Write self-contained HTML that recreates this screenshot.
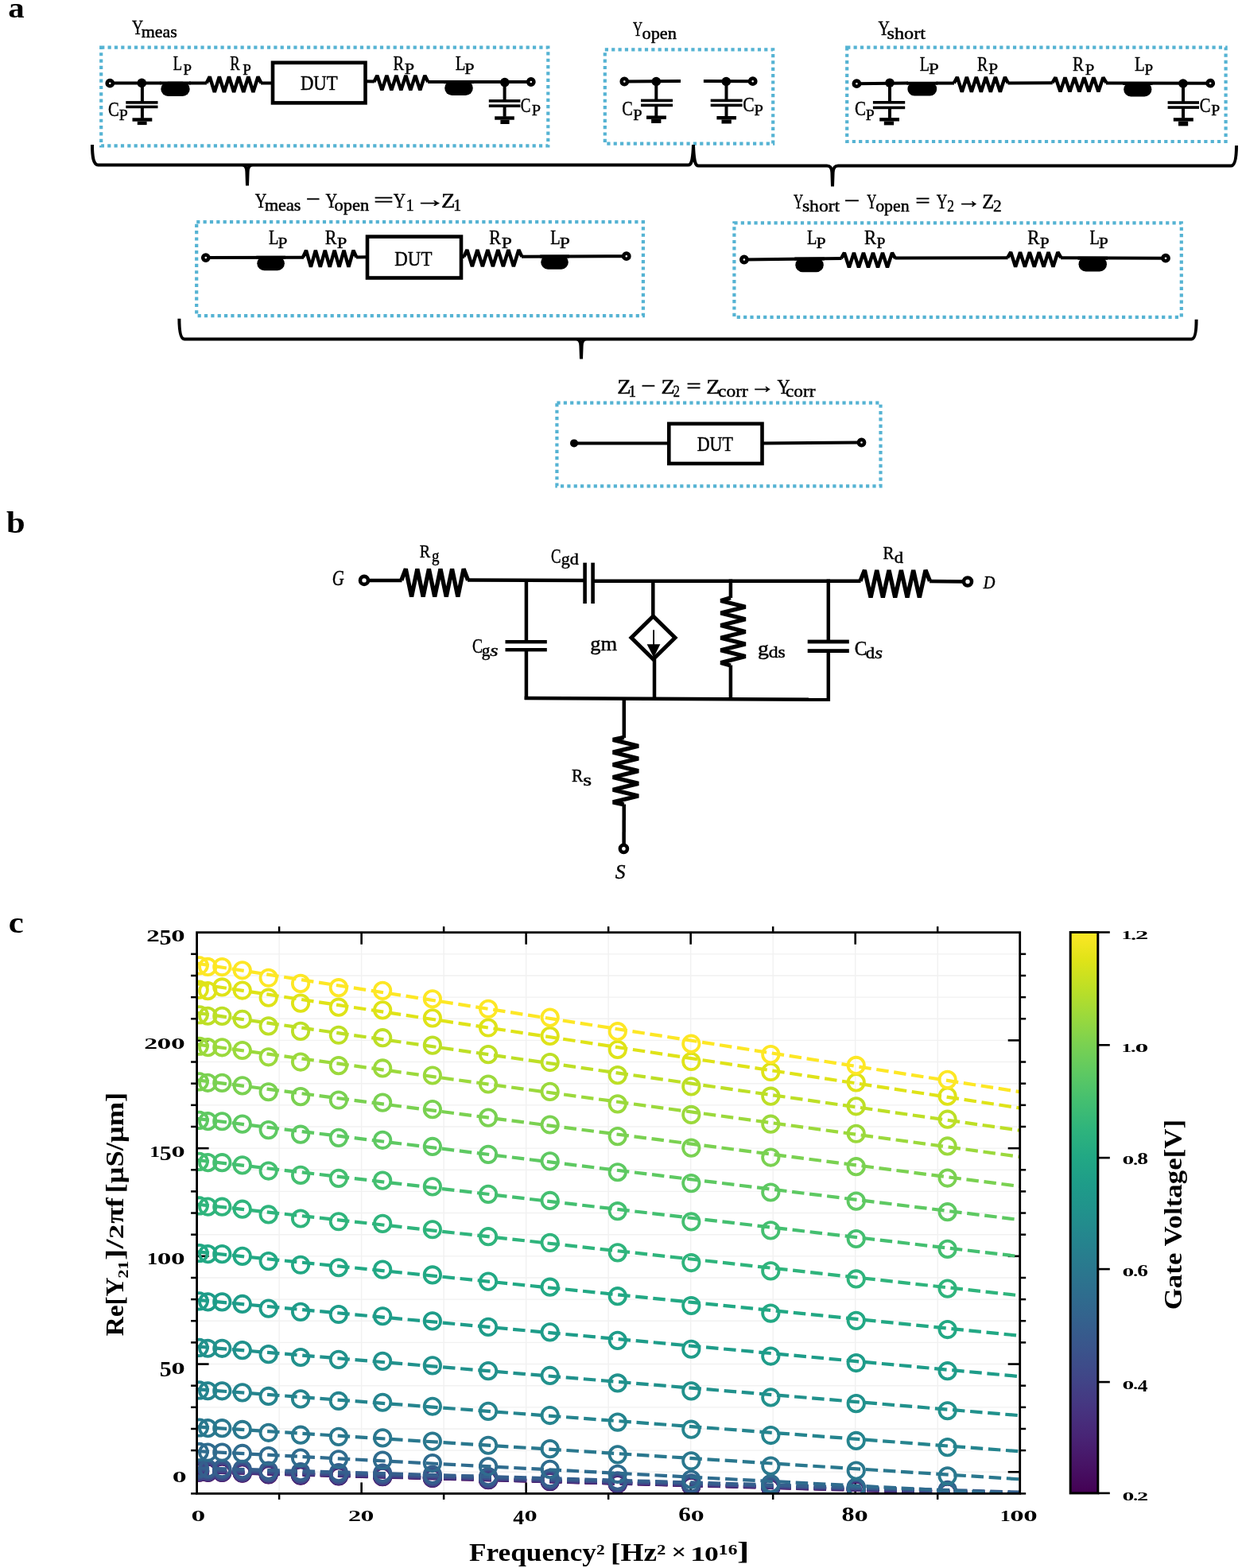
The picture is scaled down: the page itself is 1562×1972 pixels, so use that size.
<!DOCTYPE html><html><head><meta charset="utf-8"><title>figure</title><style>html,body{margin:0;padding:0;background:#fff;overflow:hidden;}svg{display:block;}text{font-family:'Liberation Serif', 'DejaVu Serif', serif;fill:#000;}</style></head><body>
<svg width="1562" height="1972" viewBox="0 0 1562 1972">
<rect x="0" y="0" width="1562" height="1972" fill="#fff"/>
<text x="10.18" y="22" font-size="36" font-weight="bold" textLength="20.44" lengthAdjust="spacingAndGlyphs" >a</text>
<rect x="127.2" y="59.6" width="562.1" height="123.8" fill="none" stroke="#55b3d3" stroke-width="4.2" stroke-dasharray="4.2 4.15"/>
<rect x="760.8" y="62.3" width="211.4" height="118.3" fill="none" stroke="#55b3d3" stroke-width="4.2" stroke-dasharray="4.2 4.15"/>
<rect x="1065.2" y="59.6" width="476.4" height="118.4" fill="none" stroke="#55b3d3" stroke-width="4.2" stroke-dasharray="4.2 4.15"/>
<rect x="247.2" y="279.2" width="561.7" height="118" fill="none" stroke="#55b3d3" stroke-width="4.2" stroke-dasharray="4.2 4.15"/>
<rect x="923.4" y="280.3" width="562.4" height="118.5" fill="none" stroke="#55b3d3" stroke-width="4.2" stroke-dasharray="4.2 4.15"/>
<rect x="700.4" y="506.6" width="407.1" height="104.7" fill="none" stroke="#55b3d3" stroke-width="4.2" stroke-dasharray="4.2 4.15"/>
<line x1="138.3" y1="104.5" x2="202.5" y2="104.5" stroke="#000" stroke-width="4" />
<circle cx="138.3" cy="104.7" r="3.6" fill="#fff" stroke="#000" stroke-width="4.6"/>
<circle cx="178.3" cy="104.4" r="5.8" fill="#000"/>
<line x1="178.9" y1="104.5" x2="178.9" y2="128.9" stroke="#000" stroke-width="4" />
<rect x="158.3" y="127.1" width="40.2" height="3.6" fill="#000"/>
<rect x="158.3" y="132.6" width="40.2" height="3.6" fill="#000"/>
<line x1="178.9" y1="134.4" x2="178.9" y2="148.8" stroke="#000" stroke-width="4" />
<rect x="166.5" y="148.3" width="24.8" height="4.4" fill="#000"/>
<rect x="172.8" y="152.7" width="11.8" height="4.4" fill="#000"/>
<line x1="201.3" y1="104.4" x2="239.7" y2="104.4" stroke="#000" stroke-width="4" />
<rect x="202.3" y="102.8" width="36.4" height="18.2" rx="9.1" ry="9.1" fill="#000"/>
<line x1="238" y1="104.5" x2="260" y2="104.5" stroke="#000" stroke-width="4" />
<polyline points="259.7,104.5 263.7,96.5 269.78,115.9 275.86,96.5 281.94,115.9 288.02,96.5 294.1,115.9 300.18,96.5 306.26,115.9 312.34,96.5 318.42,115.9 324.5,96.5 328.5,104.5" fill="none" stroke="#000" stroke-width="4.4" stroke-linejoin="bevel"/>
<line x1="328" y1="104.5" x2="343" y2="104.5" stroke="#000" stroke-width="4" />
<rect x="343" y="78.8" width="116.5" height="50.6" fill="none" stroke="#000" stroke-width="4.6"/>
<text x="377.94" y="112.9" font-size="25.2" textLength="46.73" lengthAdjust="spacingAndGlyphs" stroke="#000" stroke-width="0.45" >DUT</text>
<line x1="459.5" y1="102.2" x2="470.8" y2="102.6" stroke="#000" stroke-width="4" />
<polyline points="470.4,103 474.4,94.9 480.39,113.4 486.38,94.9 492.37,113.4 498.36,94.9 504.35,113.4 510.34,94.9 516.33,113.4 522.32,94.9 528.31,113.4 534.3,94.9 538.3,103" fill="none" stroke="#000" stroke-width="4.4" stroke-linejoin="bevel"/>
<line x1="538" y1="103" x2="667.8" y2="103" stroke="#000" stroke-width="4" />
<line x1="558.2" y1="103.2" x2="595.8" y2="103.2" stroke="#000" stroke-width="4" />
<rect x="559.2" y="101.6" width="35.6" height="18.3" rx="9.15" ry="9.15" fill="#000"/>
<circle cx="634.8" cy="103.6" r="5.8" fill="#000"/>
<line x1="634.6" y1="103" x2="634.6" y2="126.9" stroke="#000" stroke-width="4" />
<rect x="614.8" y="125.1" width="39.6" height="3.6" fill="#000"/>
<rect x="614.8" y="131.4" width="39.6" height="3.6" fill="#000"/>
<line x1="634.6" y1="133.2" x2="634.6" y2="146.8" stroke="#000" stroke-width="4" />
<rect x="622.2" y="146.3" width="24.6" height="4.4" fill="#000"/>
<rect x="629.4" y="150.7" width="11.2" height="5.3" fill="#000"/>
<circle cx="667.8" cy="103" r="3.6" fill="#fff" stroke="#000" stroke-width="4.6"/>
<text x="166.08" y="43" font-size="26" textLength="14.12" lengthAdjust="spacingAndGlyphs" stroke="#000" stroke-width="0.45" >Y</text>
<text x="177.74" y="46.9" font-size="21" textLength="45.05" lengthAdjust="spacingAndGlyphs" stroke="#000" stroke-width="0.45" >meas</text>
<text x="217.66" y="88.2" font-size="26" textLength="11.35" lengthAdjust="spacingAndGlyphs" stroke="#000" stroke-width="0.45" >L</text>
<text x="230.46" y="93.8" font-size="19.5" textLength="10.5" lengthAdjust="spacingAndGlyphs" stroke="#000" stroke-width="0.45" >P</text>
<text x="289.37" y="88.2" font-size="26" textLength="12.36" lengthAdjust="spacingAndGlyphs" stroke="#000" stroke-width="0.45" >R</text>
<text x="305.15" y="93.8" font-size="19.5" textLength="10.61" lengthAdjust="spacingAndGlyphs" stroke="#000" stroke-width="0.45" >P</text>
<text x="135.95" y="146.2" font-size="26" textLength="13.79" lengthAdjust="spacingAndGlyphs" stroke="#000" stroke-width="0.45" >C</text>
<text x="149.83" y="151.1" font-size="19.5" textLength="11.07" lengthAdjust="spacingAndGlyphs" stroke="#000" stroke-width="0.45" >P</text>
<text x="494.41" y="88.4" font-size="26" textLength="13.62" lengthAdjust="spacingAndGlyphs" stroke="#000" stroke-width="0.45" >R</text>
<text x="508.86" y="93" font-size="19.5" textLength="12.33" lengthAdjust="spacingAndGlyphs" stroke="#000" stroke-width="0.45" >P</text>
<text x="572.7" y="88.4" font-size="26" textLength="12.64" lengthAdjust="spacingAndGlyphs" stroke="#000" stroke-width="0.45" >L</text>
<text x="584.16" y="93" font-size="19.5" textLength="12.33" lengthAdjust="spacingAndGlyphs" stroke="#000" stroke-width="0.45" >P</text>
<text x="654.72" y="140.5" font-size="26" textLength="12.62" lengthAdjust="spacingAndGlyphs" stroke="#000" stroke-width="0.45" >C</text>
<text x="668.81" y="145.3" font-size="19.5" textLength="11.3" lengthAdjust="spacingAndGlyphs" stroke="#000" stroke-width="0.45" >P</text>
<line x1="785.3" y1="102.4" x2="856" y2="102" stroke="#000" stroke-width="4" />
<circle cx="785.3" cy="102.5" r="3.6" fill="#fff" stroke="#000" stroke-width="4.6"/>
<circle cx="825.3" cy="102.5" r="5.8" fill="#000"/>
<line x1="825.3" y1="102.4" x2="825.3" y2="126.4" stroke="#000" stroke-width="4" />
<rect x="806" y="124.6" width="40" height="3.6" fill="#000"/>
<rect x="806" y="130.6" width="40" height="3.6" fill="#000"/>
<line x1="825.3" y1="132.4" x2="825.3" y2="146" stroke="#000" stroke-width="4" />
<rect x="813" y="145.5" width="24.9" height="4.4" fill="#000"/>
<rect x="819.1" y="149.9" width="12.3" height="5" fill="#000"/>
<line x1="884.9" y1="102" x2="946.7" y2="102.2" stroke="#000" stroke-width="4" />
<circle cx="913.3" cy="102.5" r="5.8" fill="#000"/>
<line x1="913.5" y1="102.2" x2="913.5" y2="126.4" stroke="#000" stroke-width="4" />
<rect x="893.7" y="124.6" width="39.9" height="3.6" fill="#000"/>
<rect x="893.7" y="130.6" width="39.9" height="3.6" fill="#000"/>
<line x1="913.5" y1="132.4" x2="913.5" y2="146.5" stroke="#000" stroke-width="4" />
<rect x="901.4" y="146" width="24.6" height="4.4" fill="#000"/>
<rect x="907.5" y="150.4" width="12.3" height="5.1" fill="#000"/>
<circle cx="946.7" cy="102.2" r="3.6" fill="#fff" stroke="#000" stroke-width="4.6"/>
<text x="795.91" y="44.6" font-size="26" textLength="12.11" lengthAdjust="spacingAndGlyphs" stroke="#000" stroke-width="0.45" >Y</text>
<text x="807.55" y="49.2" font-size="21" textLength="43.39" lengthAdjust="spacingAndGlyphs" stroke="#000" stroke-width="0.45" >open</text>
<text x="782.17" y="145.2" font-size="26" textLength="13.55" lengthAdjust="spacingAndGlyphs" stroke="#000" stroke-width="0.45" >C</text>
<text x="796.31" y="151.4" font-size="19.5" textLength="11.41" lengthAdjust="spacingAndGlyphs" stroke="#000" stroke-width="0.45" >P</text>
<text x="934.32" y="139.9" font-size="26" textLength="14.37" lengthAdjust="spacingAndGlyphs" stroke="#000" stroke-width="0.45" >C</text>
<text x="948.41" y="145.2" font-size="19.5" textLength="11.41" lengthAdjust="spacingAndGlyphs" stroke="#000" stroke-width="0.45" >P</text>
<line x1="1077.4" y1="105.2" x2="1142" y2="104.6" stroke="#000" stroke-width="4" />
<circle cx="1077.4" cy="105.2" r="3.6" fill="#fff" stroke="#000" stroke-width="4.6"/>
<circle cx="1119" cy="104.2" r="5.8" fill="#000"/>
<line x1="1119" y1="104.6" x2="1119" y2="128.8" stroke="#000" stroke-width="4" />
<rect x="1097.9" y="127" width="40.3" height="3.6" fill="#000"/>
<rect x="1097.9" y="133.6" width="40.3" height="3.6" fill="#000"/>
<line x1="1119" y1="135.4" x2="1119" y2="148.6" stroke="#000" stroke-width="4" />
<rect x="1106.2" y="148.1" width="24.8" height="4.4" fill="#000"/>
<rect x="1111.8" y="152.5" width="12.3" height="4.9" fill="#000"/>
<line x1="1140.4" y1="104.8" x2="1179.2" y2="104.8" stroke="#000" stroke-width="4" />
<rect x="1141.4" y="103.2" width="36.8" height="17.4" rx="8.7" ry="8.7" fill="#000"/>
<line x1="1177.5" y1="104.6" x2="1200" y2="104.6" stroke="#000" stroke-width="4" />
<polyline points="1199.8,104.6 1203.8,96.9 1209.81,115.5 1215.82,96.9 1221.83,115.5 1227.84,96.9 1233.85,115.5 1239.86,96.9 1245.87,115.5 1251.88,96.9 1257.89,115.5 1263.9,96.9 1267.9,104.6" fill="none" stroke="#000" stroke-width="4.4" stroke-linejoin="bevel"/>
<line x1="1267.5" y1="104.4" x2="1323.8" y2="104.2" stroke="#000" stroke-width="4" />
<polyline points="1323.5,104.2 1327.5,97.4 1333.49,115.4 1339.48,97.4 1345.47,115.4 1351.46,97.4 1357.45,115.4 1363.44,97.4 1369.43,115.4 1375.42,97.4 1381.41,115.4 1387.4,97.4 1391.4,104.2" fill="none" stroke="#000" stroke-width="4.4" stroke-linejoin="bevel"/>
<line x1="1391" y1="104.4" x2="1522.2" y2="104.7" stroke="#000" stroke-width="4" />
<line x1="1412.2" y1="105" x2="1449.4" y2="105" stroke="#000" stroke-width="4" />
<rect x="1413.2" y="103.4" width="35.2" height="18.1" rx="9.05" ry="9.05" fill="#000"/>
<circle cx="1487.9" cy="105" r="5.8" fill="#000"/>
<line x1="1488" y1="104.8" x2="1488" y2="129" stroke="#000" stroke-width="4" />
<rect x="1468.6" y="127.2" width="39.4" height="3.6" fill="#000"/>
<rect x="1468.6" y="133.3" width="39.4" height="3.6" fill="#000"/>
<line x1="1488" y1="135.1" x2="1488" y2="148.7" stroke="#000" stroke-width="4" />
<rect x="1475.8" y="148.2" width="25" height="4.4" fill="#000"/>
<rect x="1482" y="152.6" width="12.2" height="5.8" fill="#000"/>
<circle cx="1522.2" cy="104.7" r="3.6" fill="#fff" stroke="#000" stroke-width="4.6"/>
<text x="1104.38" y="43.8" font-size="26" textLength="14.33" lengthAdjust="spacingAndGlyphs" stroke="#000" stroke-width="0.45" >Y</text>
<text x="1115.61" y="48.6" font-size="21" textLength="48.33" lengthAdjust="spacingAndGlyphs" stroke="#000" stroke-width="0.45" >short</text>
<text x="1074.94" y="145.4" font-size="26" textLength="14.02" lengthAdjust="spacingAndGlyphs" stroke="#000" stroke-width="0.45" >C</text>
<text x="1088.83" y="151" font-size="19.5" textLength="10.96" lengthAdjust="spacingAndGlyphs" stroke="#000" stroke-width="0.45" >P</text>
<text x="1156.83" y="88.6" font-size="26" textLength="12.17" lengthAdjust="spacingAndGlyphs" stroke="#000" stroke-width="0.45" >L</text>
<text x="1167.94" y="93.4" font-size="19.5" textLength="12.78" lengthAdjust="spacingAndGlyphs" stroke="#000" stroke-width="0.45" >P</text>
<text x="1228.92" y="88.6" font-size="26" textLength="13.41" lengthAdjust="spacingAndGlyphs" stroke="#000" stroke-width="0.45" >R</text>
<text x="1243.29" y="93.4" font-size="19.5" textLength="11.87" lengthAdjust="spacingAndGlyphs" stroke="#000" stroke-width="0.45" >P</text>
<text x="1348.89" y="88.8" font-size="26" textLength="14.04" lengthAdjust="spacingAndGlyphs" stroke="#000" stroke-width="0.45" >R</text>
<text x="1364.8" y="93.8" font-size="19.5" textLength="11.53" lengthAdjust="spacingAndGlyphs" stroke="#000" stroke-width="0.45" >P</text>
<text x="1426.9" y="88.8" font-size="26" textLength="12.76" lengthAdjust="spacingAndGlyphs" stroke="#000" stroke-width="0.45" >L</text>
<text x="1439.45" y="93.8" font-size="19.5" textLength="10.61" lengthAdjust="spacingAndGlyphs" stroke="#000" stroke-width="0.45" >P</text>
<text x="1508.86" y="140.8" font-size="26" textLength="13.67" lengthAdjust="spacingAndGlyphs" stroke="#000" stroke-width="0.45" >C</text>
<text x="1523.33" y="145" font-size="19.5" textLength="10.96" lengthAdjust="spacingAndGlyphs" stroke="#000" stroke-width="0.45" >P</text>
<path d="M116,182 C116,196 117.2,207.5 123.5,207.5 H304 C308,207.5 310,209.5 310.4,216 L311,233.4 M318,207.5 C314,207.5 312,209.5 311.6,216 L311,233.4 M304,207.5 H318 M318,207.5 H865.5 C869.5,207.5 871.3,203 872,182 C872.7,203 874.5,208.6 878.5,208.6 H1040 C1044,208.6 1046,210.6 1046.4,217 L1047,234.4 M1054,208.6 C1050,208.6 1048,210.6 1047.6,217 L1047,234.4 M1054,208.6 H1548 C1553.5,208.6 1555,197 1555,183" fill="none" stroke="#000" stroke-width="4"/>
<text x="320.87" y="260.6" font-size="26" textLength="14.64" lengthAdjust="spacingAndGlyphs" stroke="#000" stroke-width="0.45" >Y</text>
<text x="332.94" y="264.7" font-size="21" textLength="45.36" lengthAdjust="spacingAndGlyphs" stroke="#000" stroke-width="0.45" >meas</text>
<text x="385.11" y="259" font-size="26" textLength="18.06" lengthAdjust="spacingAndGlyphs" stroke="#000" stroke-width="0.45" >−</text>
<text x="409.57" y="260.6" font-size="26" textLength="14.54" lengthAdjust="spacingAndGlyphs" stroke="#000" stroke-width="0.45" >Y</text>
<text x="420.64" y="264.7" font-size="21" textLength="43.7" lengthAdjust="spacingAndGlyphs" stroke="#000" stroke-width="0.45" >open</text>
<text x="469.75" y="260" font-size="26" textLength="25.45" lengthAdjust="spacingAndGlyphs" stroke="#000" stroke-width="0.45" >=</text>
<text x="494.76" y="260.6" font-size="26" textLength="15.27" lengthAdjust="spacingAndGlyphs" stroke="#000" stroke-width="0.45" >Y</text>
<text x="510.5" y="264.7" font-size="21" textLength="10.23" lengthAdjust="spacingAndGlyphs" stroke="#000" stroke-width="0.45" >1</text>
<text x="521.63" y="259.5" font-size="26" textLength="39.03" lengthAdjust="spacingAndGlyphs" stroke="#000" stroke-width="0.45" >→</text>
<text x="555.13" y="260.6" font-size="26" textLength="17.43" lengthAdjust="spacingAndGlyphs" stroke="#000" stroke-width="0.45" >Z</text>
<text x="570.18" y="264.7" font-size="21" textLength="9.8" lengthAdjust="spacingAndGlyphs" stroke="#000" stroke-width="0.45" >1</text>
<line x1="258.8" y1="324.1" x2="382" y2="323.66" stroke="#000" stroke-width="4" />
<circle cx="258.8" cy="324.1" r="3.6" fill="#fff" stroke="#000" stroke-width="4.6"/>
<line x1="322.3" y1="323.87" x2="358.9" y2="323.87" stroke="#000" stroke-width="4" />
<rect x="323.3" y="322.27" width="34.6" height="17.93" rx="8.97" ry="8.97" fill="#000"/>
<polyline points="381,323.66 385,314.96 390.94,335.76 396.88,314.96 402.82,335.76 408.76,314.96 414.7,335.76 420.64,314.96 426.58,335.76 432.52,314.96 438.46,335.76 444.4,314.96 448.4,323.66" fill="none" stroke="#000" stroke-width="4.4" stroke-linejoin="bevel"/>
<line x1="448" y1="323.42" x2="462" y2="323.37" stroke="#000" stroke-width="4" />
<rect x="462" y="297.6" width="118" height="51.9" fill="none" stroke="#000" stroke-width="4.6"/>
<text x="496.34" y="334" font-size="25.6" textLength="47.04" lengthAdjust="spacingAndGlyphs" stroke="#000" stroke-width="0.45" >DUT</text>
<line x1="580" y1="322.95" x2="584" y2="322.93" stroke="#000" stroke-width="4" />
<polyline points="583.4,322.94 587.4,314.24 593.9,335.04 600.4,314.24 606.9,335.04 613.4,314.24 619.9,335.04 626.4,314.24 632.9,335.04 639.4,314.24 645.9,335.04 652.4,314.24 656.4,322.94" fill="none" stroke="#000" stroke-width="4.4" stroke-linejoin="bevel"/>
<line x1="656" y1="322.67" x2="787.8" y2="322.2" stroke="#000" stroke-width="4" />
<line x1="679.2" y1="322.59" x2="715.8" y2="322.59" stroke="#000" stroke-width="4" />
<rect x="680.2" y="320.99" width="34.6" height="17.71" rx="8.86" ry="8.86" fill="#000"/>
<circle cx="787.8" cy="322.2" r="3.6" fill="#fff" stroke="#000" stroke-width="4.6"/>
<text x="338.11" y="306.8" font-size="26" textLength="12.4" lengthAdjust="spacingAndGlyphs" stroke="#000" stroke-width="0.45" >L</text>
<text x="349.59" y="311.6" font-size="19.5" textLength="11.87" lengthAdjust="spacingAndGlyphs" stroke="#000" stroke-width="0.45" >P</text>
<text x="408.77" y="306.8" font-size="26" textLength="14.67" lengthAdjust="spacingAndGlyphs" stroke="#000" stroke-width="0.45" >R</text>
<text x="423.85" y="311.6" font-size="19.5" textLength="12.55" lengthAdjust="spacingAndGlyphs" stroke="#000" stroke-width="0.45" >P</text>
<text x="615.37" y="306.8" font-size="26" textLength="14.67" lengthAdjust="spacingAndGlyphs" stroke="#000" stroke-width="0.45" >R</text>
<text x="630.82" y="311.6" font-size="19.5" textLength="13.12" lengthAdjust="spacingAndGlyphs" stroke="#000" stroke-width="0.45" >P</text>
<text x="692.31" y="306.8" font-size="26" textLength="12.4" lengthAdjust="spacingAndGlyphs" stroke="#000" stroke-width="0.45" >L</text>
<text x="703.82" y="311.6" font-size="19.5" textLength="13.12" lengthAdjust="spacingAndGlyphs" stroke="#000" stroke-width="0.45" >P</text>
<text x="998.11" y="261.7" font-size="26" textLength="12.22" lengthAdjust="spacingAndGlyphs" stroke="#000" stroke-width="0.45" >Y</text>
<text x="1008.93" y="266" font-size="21" textLength="47.21" lengthAdjust="spacingAndGlyphs" stroke="#000" stroke-width="0.45" >short</text>
<text x="1061.84" y="261" font-size="26" textLength="19.88" lengthAdjust="spacingAndGlyphs" stroke="#000" stroke-width="0.45" >−</text>
<text x="1090.31" y="261.7" font-size="26" textLength="12.11" lengthAdjust="spacingAndGlyphs" stroke="#000" stroke-width="0.45" >Y</text>
<text x="1101.17" y="266" font-size="21" textLength="42.46" lengthAdjust="spacingAndGlyphs" stroke="#000" stroke-width="0.45" >open</text>
<text x="1151.36" y="261" font-size="26" textLength="18.54" lengthAdjust="spacingAndGlyphs" stroke="#000" stroke-width="0.45" >=</text>
<text x="1177.79" y="261.7" font-size="26" textLength="13.69" lengthAdjust="spacingAndGlyphs" stroke="#000" stroke-width="0.45" >Y</text>
<text x="1191.23" y="266" font-size="21" textLength="8.73" lengthAdjust="spacingAndGlyphs" stroke="#000" stroke-width="0.45" >2</text>
<text x="1203.32" y="260.5" font-size="26" textLength="30.75" lengthAdjust="spacingAndGlyphs" stroke="#000" stroke-width="0.45" >→</text>
<text x="1235.32" y="261.7" font-size="26" textLength="15.02" lengthAdjust="spacingAndGlyphs" stroke="#000" stroke-width="0.45" >Z</text>
<text x="1249.06" y="266" font-size="21" textLength="10.73" lengthAdjust="spacingAndGlyphs" stroke="#000" stroke-width="0.45" >2</text>
<line x1="935.9" y1="326.5" x2="1058.5" y2="325" stroke="#000" stroke-width="4" />
<circle cx="935.9" cy="326.5" r="3.6" fill="#fff" stroke="#000" stroke-width="4.6"/>
<line x1="999.3" y1="325.6" x2="1036.8" y2="325.6" stroke="#000" stroke-width="4" />
<rect x="1000.3" y="324" width="35.5" height="18.3" rx="9.15" ry="9.15" fill="#000"/>
<polyline points="1057.9,325 1061.9,317.9 1067.91,336.4 1073.92,317.9 1079.93,336.4 1085.94,317.9 1091.95,336.4 1097.96,317.9 1103.97,336.4 1109.98,317.9 1115.99,336.4 1122,317.9 1126,325" fill="none" stroke="#000" stroke-width="4.4" stroke-linejoin="bevel"/>
<line x1="1125.5" y1="324.6" x2="1267.6" y2="324.2" stroke="#000" stroke-width="4" />
<polyline points="1267.2,324.2 1271.2,317.1 1277.12,335.5 1283.04,317.1 1288.96,335.5 1294.88,317.1 1300.8,335.5 1306.72,317.1 1312.64,335.5 1318.56,317.1 1324.48,335.5 1330.4,317.1 1334.4,324.2" fill="none" stroke="#000" stroke-width="4.4" stroke-linejoin="bevel"/>
<line x1="1334" y1="324.3" x2="1466" y2="324.7" stroke="#000" stroke-width="4" />
<line x1="1355.5" y1="324.8" x2="1393" y2="324.8" stroke="#000" stroke-width="4" />
<rect x="1356.5" y="323.2" width="35.5" height="18.2" rx="9.1" ry="9.1" fill="#000"/>
<circle cx="1466" cy="324.7" r="3.6" fill="#fff" stroke="#000" stroke-width="4.6"/>
<text x="1015.01" y="306.8" font-size="26" textLength="12.4" lengthAdjust="spacingAndGlyphs" stroke="#000" stroke-width="0.45" >L</text>
<text x="1026.47" y="311.6" font-size="19.5" textLength="12.1" lengthAdjust="spacingAndGlyphs" stroke="#000" stroke-width="0.45" >P</text>
<text x="1086.95" y="306.8" font-size="26" textLength="15.08" lengthAdjust="spacingAndGlyphs" stroke="#000" stroke-width="0.45" >R</text>
<text x="1102.43" y="311.6" font-size="19.5" textLength="10.96" lengthAdjust="spacingAndGlyphs" stroke="#000" stroke-width="0.45" >P</text>
<text x="1292.34" y="306.8" font-size="26" textLength="15.19" lengthAdjust="spacingAndGlyphs" stroke="#000" stroke-width="0.45" >R</text>
<text x="1307.88" y="311.6" font-size="19.5" textLength="11.98" lengthAdjust="spacingAndGlyphs" stroke="#000" stroke-width="0.45" >P</text>
<text x="1370.42" y="306.8" font-size="26" textLength="12.29" lengthAdjust="spacingAndGlyphs" stroke="#000" stroke-width="0.45" >L</text>
<text x="1381.77" y="311.6" font-size="19.5" textLength="12.1" lengthAdjust="spacingAndGlyphs" stroke="#000" stroke-width="0.45" >P</text>
<path d="M225.4,400.7 C225.4,414 226.5,426.4 232,426.4 H724 C728,426.4 730,428.4 730.4,435 L731,451.4 M738,426.4 C734,426.4 732,428.4 731.6,435 L731,451.4 M724,426.4 H738 M738,426.4 H1498.5 C1503.5,426.4 1504.6,414 1504.6,401.8" fill="none" stroke="#000" stroke-width="4"/>
<text x="776.23" y="494.6" font-size="26" textLength="17.43" lengthAdjust="spacingAndGlyphs" stroke="#000" stroke-width="0.45" >Z</text>
<text x="790.43" y="498.8" font-size="21" textLength="9.52" lengthAdjust="spacingAndGlyphs" stroke="#000" stroke-width="0.45" >1</text>
<text x="806.57" y="493.5" font-size="26" textLength="18.42" lengthAdjust="spacingAndGlyphs" stroke="#000" stroke-width="0.45" >−</text>
<text x="831.44" y="494.6" font-size="26" textLength="17.3" lengthAdjust="spacingAndGlyphs" stroke="#000" stroke-width="0.45" >Z</text>
<text x="846.45" y="498.8" font-size="21" textLength="8.48" lengthAdjust="spacingAndGlyphs" stroke="#000" stroke-width="0.45" >2</text>
<text x="863.36" y="494" font-size="26" textLength="18.54" lengthAdjust="spacingAndGlyphs" stroke="#000" stroke-width="0.45" >=</text>
<text x="888.24" y="494.6" font-size="26" textLength="17.3" lengthAdjust="spacingAndGlyphs" stroke="#000" stroke-width="0.45" >Z</text>
<text x="903.11" y="498.8" font-size="21" textLength="37.59" lengthAdjust="spacingAndGlyphs" stroke="#000" stroke-width="0.45" >corr</text>
<text x="943.35" y="493.5" font-size="26" textLength="31.6" lengthAdjust="spacingAndGlyphs" stroke="#000" stroke-width="0.45" >→</text>
<text x="977.55" y="494.6" font-size="26" textLength="16.12" lengthAdjust="spacingAndGlyphs" stroke="#000" stroke-width="0.45" >Y</text>
<text x="988.01" y="498.8" font-size="21" textLength="37.49" lengthAdjust="spacingAndGlyphs" stroke="#000" stroke-width="0.45" >corr</text>
<line x1="722" y1="557.4" x2="842" y2="557.4" stroke="#000" stroke-width="4" />
<circle cx="722" cy="557.4" r="5" fill="#000"/>
<rect x="841.3" y="532.9" width="117.2" height="50.1" fill="none" stroke="#000" stroke-width="4.6"/>
<text x="876.67" y="567.3" font-size="25.2" textLength="45.2" lengthAdjust="spacingAndGlyphs" stroke="#000" stroke-width="0.45" >DUT</text>
<line x1="958" y1="557.4" x2="1083.5" y2="556.5" stroke="#000" stroke-width="4" />
<circle cx="1083.5" cy="556.5" r="3.6" fill="#fff" stroke="#000" stroke-width="4.6"/>
<text x="8.06" y="669.5" font-size="37" font-weight="bold" textLength="23.66" lengthAdjust="spacingAndGlyphs" >b</text>
<line x1="458" y1="729.9" x2="505.5" y2="729.9" stroke="#000" stroke-width="4.5" />
<polyline points="504.8,729.8 510.3,715.5 517.58,750.4 524.86,715.5 532.14,750.4 539.42,715.5 546.7,750.4 553.98,715.5 561.26,750.4 568.54,715.5 575.82,750.4 583.1,715.5 588.6,729.8" fill="none" stroke="#000" stroke-width="5.3" stroke-linejoin="bevel"/>
<line x1="588" y1="729.5" x2="735.6" y2="730" stroke="#000" stroke-width="4.5" />
<rect x="733.3" y="707.7" width="4.6" height="51.4" fill="#000"/>
<rect x="743.3" y="707.7" width="4.6" height="51.4" fill="#000"/>
<line x1="745.6" y1="730.7" x2="1082.5" y2="730.7" stroke="#000" stroke-width="4.5" />
<polyline points="1081.9,730.8 1087.4,717.1 1095.06,751.3 1102.72,717.1 1110.38,751.3 1118.04,717.1 1125.7,751.3 1133.36,717.1 1141.02,751.3 1148.68,717.1 1156.34,751.3 1164,717.1 1169.5,730.8" fill="none" stroke="#000" stroke-width="5.3" stroke-linejoin="bevel"/>
<line x1="1169" y1="731.1" x2="1217" y2="731.5" stroke="#000" stroke-width="4.5" />
<circle cx="458" cy="729.9" r="5" fill="#fff" stroke="#000" stroke-width="4.6"/>
<circle cx="1217" cy="731.5" r="5" fill="#fff" stroke="#000" stroke-width="4.6"/>
<line x1="661.9" y1="728" x2="661.9" y2="807.2" stroke="#000" stroke-width="4.5" />
<rect x="635.5" y="805" width="52.3" height="4.4" fill="#000"/>
<rect x="635.5" y="815" width="52.3" height="4.4" fill="#000"/>
<line x1="661.9" y1="817.2" x2="661.9" y2="880" stroke="#000" stroke-width="4.5" />
<line x1="821.3" y1="730" x2="821.3" y2="776" stroke="#000" stroke-width="4.5" />
<path d="M821.5,775 L849,802 L821.5,829 L794,802 Z" fill="none" stroke="#000" stroke-width="5" stroke-linejoin="miter"/>
<line x1="822.1" y1="792.2" x2="822.1" y2="812" stroke="#000" stroke-width="1.8" />
<path d="M813.6,810.3 L830.4,810.3 L822.1,826.7 Z" fill="#000"/>
<line x1="823" y1="829" x2="823" y2="880" stroke="#000" stroke-width="4.5" />
<line x1="918.9" y1="728.5" x2="918.9" y2="752" stroke="#000" stroke-width="4.5" />
<polyline points="918.9,751.8 906.4,755.4 937.6,763.2 906.4,771 937.6,778.8 906.4,786.6 937.6,794.4 906.4,802.2 937.6,810 906.4,817.8 937.6,825.6 906.4,833.4 918.9,837" fill="none" stroke="#000" stroke-width="5.2" stroke-linejoin="bevel"/>
<line x1="918.9" y1="836.5" x2="918.9" y2="880" stroke="#000" stroke-width="4.5" />
<line x1="1041.8" y1="728.5" x2="1041.8" y2="807" stroke="#000" stroke-width="4.5" />
<rect x="1015.7" y="804.6" width="52.1" height="4.8" fill="#000"/>
<rect x="1015.7" y="816.2" width="52.1" height="4.8" fill="#000"/>
<line x1="1041.8" y1="818.7" x2="1041.8" y2="882" stroke="#000" stroke-width="4.5" />
<polyline points="659.7,877.9 1044,879.8" fill="none" stroke="#000" stroke-width="4.5"/>
<line x1="784.8" y1="877" x2="784.8" y2="928" stroke="#000" stroke-width="4.5" />
<polyline points="784.8,927.4 770.8,930.4 803,938.25 770.8,946.1 803,953.95 770.8,961.8 803,969.65 770.8,977.5 803,985.35 770.8,993.2 803,1001.05 770.8,1008.9 784.8,1011.9" fill="none" stroke="#000" stroke-width="5.2" stroke-linejoin="bevel"/>
<line x1="784.8" y1="1011.5" x2="784.6" y2="1062" stroke="#000" stroke-width="4.5" />
<circle cx="784.4" cy="1067.4" r="4.6" fill="#fff" stroke="#000" stroke-width="4.4"/>
<text x="417.85" y="735.7" font-size="26.4" font-style="italic" textLength="14.99" lengthAdjust="spacingAndGlyphs" stroke="#000" stroke-width="0.45" >G</text>
<text x="1236.63" y="739.6" font-size="22.5" font-style="italic" textLength="14.68" lengthAdjust="spacingAndGlyphs" stroke="#000" stroke-width="0.45" >D</text>
<text x="773.7" y="1105" font-size="25" font-style="italic" textLength="12.71" lengthAdjust="spacingAndGlyphs" stroke="#000" stroke-width="0.45" >S</text>
<text x="527.82" y="701.1" font-size="24" textLength="13.41" lengthAdjust="spacingAndGlyphs" stroke="#000" stroke-width="0.45" >R</text>
<text x="542.99" y="705.5" font-size="20" textLength="9.48" lengthAdjust="spacingAndGlyphs" stroke="#000" stroke-width="0.45" >g</text>
<text x="693.03" y="707.7" font-size="25" textLength="12.5" lengthAdjust="spacingAndGlyphs" stroke="#000" stroke-width="0.45" >C</text>
<text x="705.85" y="710" font-size="20" textLength="22.01" lengthAdjust="spacingAndGlyphs" stroke="#000" stroke-width="0.45" >gd</text>
<text x="1110.49" y="703.1" font-size="24" textLength="14.04" lengthAdjust="spacingAndGlyphs" stroke="#000" stroke-width="0.45" >R</text>
<text x="1124.88" y="708" font-size="20" textLength="11.29" lengthAdjust="spacingAndGlyphs" stroke="#000" stroke-width="0.45" >d</text>
<text x="593.9" y="820.5" font-size="25" textLength="13.09" lengthAdjust="spacingAndGlyphs" stroke="#000" stroke-width="0.45" >C</text>
<text x="605.79" y="825" font-size="20" textLength="10.62" lengthAdjust="spacingAndGlyphs" stroke="#000" stroke-width="0.45" >g</text>
<text x="616.18" y="825" font-size="20" font-style="italic" textLength="10.33" lengthAdjust="spacingAndGlyphs" stroke="#000" stroke-width="0.45" >s</text>
<text x="742.26" y="817.6" font-size="26" textLength="33.85" lengthAdjust="spacingAndGlyphs" stroke="#000" stroke-width="0.45" >gm</text>
<text x="953" y="823.5" font-size="26" textLength="13.93" lengthAdjust="spacingAndGlyphs" stroke="#000" stroke-width="0.45" >g</text>
<text x="966.74" y="827.2" font-size="20" textLength="21.12" lengthAdjust="spacingAndGlyphs" stroke="#000" stroke-width="0.45" >ds</text>
<text x="1074.84" y="823.5" font-size="25" textLength="15.66" lengthAdjust="spacingAndGlyphs" stroke="#000" stroke-width="0.45" >C</text>
<text x="1088.88" y="828" font-size="20" textLength="11.4" lengthAdjust="spacingAndGlyphs" stroke="#000" stroke-width="0.45" >d</text>
<text x="1100.19" y="828" font-size="20" font-style="italic" textLength="9.77" lengthAdjust="spacingAndGlyphs" stroke="#000" stroke-width="0.45" >s</text>
<text x="719.08" y="983.4" font-size="24" textLength="14.35" lengthAdjust="spacingAndGlyphs" stroke="#000" stroke-width="0.45" >R</text>
<text x="733.16" y="987.8" font-size="20" textLength="10.85" lengthAdjust="spacingAndGlyphs" stroke="#000" stroke-width="0.45" >s</text>
<text x="10.83" y="1173.4" font-size="37" font-weight="bold" textLength="19.03" lengthAdjust="spacingAndGlyphs" >c</text>
<defs><clipPath id="axclip"><rect x="247.6" y="1172.7" width="1035.1" height="705.7"/></clipPath>
<linearGradient id="vir" x1="0" y1="1" x2="0" y2="0"><stop offset="0" stop-color="#440154"/><stop offset="0.05" stop-color="#471365"/><stop offset="0.1" stop-color="#482475"/><stop offset="0.15" stop-color="#463480"/><stop offset="0.2" stop-color="#414487"/><stop offset="0.25" stop-color="#3b528b"/><stop offset="0.3" stop-color="#355f8d"/><stop offset="0.35" stop-color="#2f6c8e"/><stop offset="0.4" stop-color="#2a788e"/><stop offset="0.45" stop-color="#25848e"/><stop offset="0.5" stop-color="#21918c"/><stop offset="0.55" stop-color="#1e9c89"/><stop offset="0.6" stop-color="#22a884"/><stop offset="0.65" stop-color="#2fb47c"/><stop offset="0.7" stop-color="#44bf70"/><stop offset="0.75" stop-color="#5ec962"/><stop offset="0.8" stop-color="#7ad151"/><stop offset="0.85" stop-color="#9bd93c"/><stop offset="0.9" stop-color="#bddf26"/><stop offset="0.95" stop-color="#dfe318"/><stop offset="1" stop-color="#fde725"/></linearGradient></defs>
<line x1="351.11" y1="1172.7" x2="351.11" y2="1878.4" stroke="#f1f1f1" stroke-width="1.4" />
<line x1="454.62" y1="1172.7" x2="454.62" y2="1878.4" stroke="#f1f1f1" stroke-width="1.4" />
<line x1="558.13" y1="1172.7" x2="558.13" y2="1878.4" stroke="#f1f1f1" stroke-width="1.4" />
<line x1="661.64" y1="1172.7" x2="661.64" y2="1878.4" stroke="#f1f1f1" stroke-width="1.4" />
<line x1="765.15" y1="1172.7" x2="765.15" y2="1878.4" stroke="#f1f1f1" stroke-width="1.4" />
<line x1="868.66" y1="1172.7" x2="868.66" y2="1878.4" stroke="#f1f1f1" stroke-width="1.4" />
<line x1="972.17" y1="1172.7" x2="972.17" y2="1878.4" stroke="#f1f1f1" stroke-width="1.4" />
<line x1="1075.68" y1="1172.7" x2="1075.68" y2="1878.4" stroke="#f1f1f1" stroke-width="1.4" />
<line x1="1179.19" y1="1172.7" x2="1179.19" y2="1878.4" stroke="#f1f1f1" stroke-width="1.4" />
<line x1="247.6" y1="1851.26" x2="1282.7" y2="1851.26" stroke="#f1f1f1" stroke-width="1.4" />
<line x1="247.6" y1="1824.12" x2="1282.7" y2="1824.12" stroke="#f1f1f1" stroke-width="1.4" />
<line x1="247.6" y1="1796.97" x2="1282.7" y2="1796.97" stroke="#f1f1f1" stroke-width="1.4" />
<line x1="247.6" y1="1769.83" x2="1282.7" y2="1769.83" stroke="#f1f1f1" stroke-width="1.4" />
<line x1="247.6" y1="1742.69" x2="1282.7" y2="1742.69" stroke="#f1f1f1" stroke-width="1.4" />
<line x1="247.6" y1="1715.55" x2="1282.7" y2="1715.55" stroke="#f1f1f1" stroke-width="1.4" />
<line x1="247.6" y1="1688.4" x2="1282.7" y2="1688.4" stroke="#f1f1f1" stroke-width="1.4" />
<line x1="247.6" y1="1661.26" x2="1282.7" y2="1661.26" stroke="#f1f1f1" stroke-width="1.4" />
<line x1="247.6" y1="1634.12" x2="1282.7" y2="1634.12" stroke="#f1f1f1" stroke-width="1.4" />
<line x1="247.6" y1="1606.98" x2="1282.7" y2="1606.98" stroke="#f1f1f1" stroke-width="1.4" />
<line x1="247.6" y1="1579.83" x2="1282.7" y2="1579.83" stroke="#f1f1f1" stroke-width="1.4" />
<line x1="247.6" y1="1552.69" x2="1282.7" y2="1552.69" stroke="#f1f1f1" stroke-width="1.4" />
<line x1="247.6" y1="1525.55" x2="1282.7" y2="1525.55" stroke="#f1f1f1" stroke-width="1.4" />
<line x1="247.6" y1="1498.41" x2="1282.7" y2="1498.41" stroke="#f1f1f1" stroke-width="1.4" />
<line x1="247.6" y1="1471.27" x2="1282.7" y2="1471.27" stroke="#f1f1f1" stroke-width="1.4" />
<line x1="247.6" y1="1444.12" x2="1282.7" y2="1444.12" stroke="#f1f1f1" stroke-width="1.4" />
<line x1="247.6" y1="1416.98" x2="1282.7" y2="1416.98" stroke="#f1f1f1" stroke-width="1.4" />
<line x1="247.6" y1="1389.84" x2="1282.7" y2="1389.84" stroke="#f1f1f1" stroke-width="1.4" />
<line x1="247.6" y1="1362.7" x2="1282.7" y2="1362.7" stroke="#f1f1f1" stroke-width="1.4" />
<line x1="247.6" y1="1335.55" x2="1282.7" y2="1335.55" stroke="#f1f1f1" stroke-width="1.4" />
<line x1="247.6" y1="1308.41" x2="1282.7" y2="1308.41" stroke="#f1f1f1" stroke-width="1.4" />
<line x1="247.6" y1="1281.27" x2="1282.7" y2="1281.27" stroke="#f1f1f1" stroke-width="1.4" />
<line x1="247.6" y1="1254.13" x2="1282.7" y2="1254.13" stroke="#f1f1f1" stroke-width="1.4" />
<line x1="247.6" y1="1226.98" x2="1282.7" y2="1226.98" stroke="#f1f1f1" stroke-width="1.4" />
<line x1="247.6" y1="1199.84" x2="1282.7" y2="1199.84" stroke="#f1f1f1" stroke-width="1.4" />
<line x1="247.6" y1="1851.26" x2="262.6" y2="1851.26" stroke="#000" stroke-width="2.6" />
<line x1="1267.7" y1="1851.26" x2="1282.7" y2="1851.26" stroke="#000" stroke-width="2.6" />
<line x1="247.6" y1="1715.55" x2="262.6" y2="1715.55" stroke="#000" stroke-width="2.6" />
<line x1="1267.7" y1="1715.55" x2="1282.7" y2="1715.55" stroke="#000" stroke-width="2.6" />
<line x1="247.6" y1="1579.83" x2="262.6" y2="1579.83" stroke="#000" stroke-width="2.6" />
<line x1="1267.7" y1="1579.83" x2="1282.7" y2="1579.83" stroke="#000" stroke-width="2.6" />
<line x1="247.6" y1="1444.12" x2="262.6" y2="1444.12" stroke="#000" stroke-width="2.6" />
<line x1="1267.7" y1="1444.12" x2="1282.7" y2="1444.12" stroke="#000" stroke-width="2.6" />
<line x1="247.6" y1="1308.41" x2="262.6" y2="1308.41" stroke="#000" stroke-width="2.6" />
<line x1="1267.7" y1="1308.41" x2="1282.7" y2="1308.41" stroke="#000" stroke-width="2.6" />
<line x1="454.62" y1="1172.7" x2="454.62" y2="1187.7" stroke="#000" stroke-width="2.6" />
<line x1="454.62" y1="1864.4" x2="454.62" y2="1878.4" stroke="#000" stroke-width="2.6" />
<line x1="661.64" y1="1172.7" x2="661.64" y2="1187.7" stroke="#000" stroke-width="2.6" />
<line x1="661.64" y1="1864.4" x2="661.64" y2="1878.4" stroke="#000" stroke-width="2.6" />
<line x1="868.66" y1="1172.7" x2="868.66" y2="1187.7" stroke="#000" stroke-width="2.6" />
<line x1="868.66" y1="1864.4" x2="868.66" y2="1878.4" stroke="#000" stroke-width="2.6" />
<line x1="1075.68" y1="1172.7" x2="1075.68" y2="1187.7" stroke="#000" stroke-width="2.6" />
<line x1="1075.68" y1="1864.4" x2="1075.68" y2="1878.4" stroke="#000" stroke-width="2.6" />
<g clip-path="url(#axclip)">
<g fill="none" stroke="#440154" stroke-width="3.8"><circle cx="250.73" cy="1851.59" r="10.2"/><circle cx="261.29" cy="1851.88" r="10.2"/><circle cx="279.3" cy="1851.9" r="10.2"/><circle cx="304.76" cy="1852.65" r="10.2"/><circle cx="337.68" cy="1854.32" r="10.2"/><circle cx="378.05" cy="1855.58" r="10.2"/><circle cx="425.87" cy="1856.51" r="10.2"/><circle cx="481.14" cy="1857.17" r="10.2"/><circle cx="543.87" cy="1858.99" r="10.2"/><circle cx="614.05" cy="1861.21" r="10.2"/><circle cx="691.68" cy="1863.11" r="10.2"/><circle cx="776.77" cy="1866.22" r="10.2"/><circle cx="869.31" cy="1868.96" r="10.2"/><circle cx="969.3" cy="1871.33" r="10.2"/><circle cx="1076.74" cy="1873.76" r="10.2"/><circle cx="1191.64" cy="1876.92" r="10.2"/></g>
<line x1="247.6" y1="1851.12" x2="1282.7" y2="1879.62" stroke="#440154" stroke-width="4.2" stroke-dasharray="15.48 6.7"/>
<g fill="none" stroke="#471365" stroke-width="3.8"><circle cx="250.73" cy="1851.32" r="10.2"/><circle cx="261.29" cy="1851.61" r="10.2"/><circle cx="279.3" cy="1851.63" r="10.2"/><circle cx="304.76" cy="1852.38" r="10.2"/><circle cx="337.68" cy="1854.05" r="10.2"/><circle cx="378.05" cy="1855.3" r="10.2"/><circle cx="425.87" cy="1856.24" r="10.2"/><circle cx="481.14" cy="1856.9" r="10.2"/><circle cx="543.87" cy="1858.72" r="10.2"/><circle cx="614.05" cy="1860.94" r="10.2"/><circle cx="691.68" cy="1862.84" r="10.2"/><circle cx="776.77" cy="1865.95" r="10.2"/><circle cx="869.31" cy="1868.69" r="10.2"/><circle cx="969.3" cy="1871.06" r="10.2"/><circle cx="1076.74" cy="1873.49" r="10.2"/><circle cx="1191.64" cy="1876.65" r="10.2"/></g>
<line x1="247.6" y1="1850.85" x2="1282.7" y2="1879.35" stroke="#471365" stroke-width="4.2" stroke-dasharray="15.48 6.7"/>
<g fill="none" stroke="#482475" stroke-width="3.8"><circle cx="250.73" cy="1851.05" r="10.2"/><circle cx="261.29" cy="1851.34" r="10.2"/><circle cx="279.3" cy="1851.36" r="10.2"/><circle cx="304.76" cy="1852.11" r="10.2"/><circle cx="337.68" cy="1853.78" r="10.2"/><circle cx="378.05" cy="1855.03" r="10.2"/><circle cx="425.87" cy="1855.97" r="10.2"/><circle cx="481.14" cy="1856.63" r="10.2"/><circle cx="543.87" cy="1858.45" r="10.2"/><circle cx="614.05" cy="1860.67" r="10.2"/><circle cx="691.68" cy="1862.57" r="10.2"/><circle cx="776.77" cy="1865.68" r="10.2"/><circle cx="869.31" cy="1868.42" r="10.2"/><circle cx="969.3" cy="1870.78" r="10.2"/><circle cx="1076.74" cy="1873.22" r="10.2"/><circle cx="1191.64" cy="1876.38" r="10.2"/></g>
<line x1="247.6" y1="1850.58" x2="1282.7" y2="1879.08" stroke="#482475" stroke-width="4.2" stroke-dasharray="15.48 6.7"/>
<g fill="none" stroke="#463480" stroke-width="3.8"><circle cx="250.73" cy="1850.78" r="10.2"/><circle cx="261.29" cy="1851.07" r="10.2"/><circle cx="279.3" cy="1851.08" r="10.2"/><circle cx="304.76" cy="1851.83" r="10.2"/><circle cx="337.68" cy="1853.51" r="10.2"/><circle cx="378.05" cy="1854.76" r="10.2"/><circle cx="425.87" cy="1855.7" r="10.2"/><circle cx="481.14" cy="1856.35" r="10.2"/><circle cx="543.87" cy="1858.18" r="10.2"/><circle cx="614.05" cy="1860.4" r="10.2"/><circle cx="691.68" cy="1862.3" r="10.2"/><circle cx="776.77" cy="1865.4" r="10.2"/><circle cx="869.31" cy="1868.14" r="10.2"/><circle cx="969.3" cy="1870.51" r="10.2"/><circle cx="1076.74" cy="1872.94" r="10.2"/><circle cx="1191.64" cy="1876.11" r="10.2"/></g>
<line x1="247.6" y1="1850.31" x2="1282.7" y2="1878.81" stroke="#463480" stroke-width="4.2" stroke-dasharray="15.48 6.7"/>
<g fill="none" stroke="#414487" stroke-width="3.8"><circle cx="250.73" cy="1849.97" r="10.2"/><circle cx="261.29" cy="1850.26" r="10.2"/><circle cx="279.3" cy="1850.28" r="10.2"/><circle cx="304.76" cy="1851.03" r="10.2"/><circle cx="337.68" cy="1852.72" r="10.2"/><circle cx="378.05" cy="1853.99" r="10.2"/><circle cx="425.87" cy="1854.93" r="10.2"/><circle cx="481.14" cy="1855.6" r="10.2"/><circle cx="543.87" cy="1857.44" r="10.2"/><circle cx="614.05" cy="1859.68" r="10.2"/><circle cx="691.68" cy="1861.6" r="10.2"/><circle cx="776.77" cy="1864.73" r="10.2"/><circle cx="869.31" cy="1867.5" r="10.2"/><circle cx="969.3" cy="1869.89" r="10.2"/><circle cx="1076.74" cy="1872.35" r="10.2"/><circle cx="1191.64" cy="1875.54" r="10.2"/></g>
<line x1="247.6" y1="1849.49" x2="1282.7" y2="1878.26" stroke="#414487" stroke-width="4.2" stroke-dasharray="15.48 6.7"/>
<g fill="none" stroke="#3b528b" stroke-width="3.8"><circle cx="250.73" cy="1848.35" r="10.2"/><circle cx="261.29" cy="1848.65" r="10.2"/><circle cx="279.3" cy="1848.67" r="10.2"/><circle cx="304.76" cy="1849.45" r="10.2"/><circle cx="337.68" cy="1851.19" r="10.2"/><circle cx="378.05" cy="1852.49" r="10.2"/><circle cx="425.87" cy="1853.46" r="10.2"/><circle cx="481.14" cy="1854.14" r="10.2"/><circle cx="543.87" cy="1856.03" r="10.2"/><circle cx="614.05" cy="1858.34" r="10.2"/><circle cx="691.68" cy="1860.31" r="10.2"/><circle cx="776.77" cy="1863.54" r="10.2"/><circle cx="869.31" cy="1866.38" r="10.2"/><circle cx="969.3" cy="1868.84" r="10.2"/><circle cx="1076.74" cy="1871.36" r="10.2"/><circle cx="1191.64" cy="1874.65" r="10.2"/></g>
<line x1="247.6" y1="1847.86" x2="1282.7" y2="1877.45" stroke="#3b528b" stroke-width="4.2" stroke-dasharray="15.48 6.7"/>
<g fill="none" stroke="#355f8d" stroke-width="3.8"><circle cx="250.73" cy="1846.74" r="10.2"/><circle cx="261.29" cy="1847.05" r="10.2"/><circle cx="279.3" cy="1847.07" r="10.2"/><circle cx="304.76" cy="1847.86" r="10.2"/><circle cx="337.68" cy="1849.65" r="10.2"/><circle cx="378.05" cy="1850.99" r="10.2"/><circle cx="425.87" cy="1851.98" r="10.2"/><circle cx="481.14" cy="1852.69" r="10.2"/><circle cx="543.87" cy="1854.63" r="10.2"/><circle cx="614.05" cy="1857" r="10.2"/><circle cx="691.68" cy="1859.02" r="10.2"/><circle cx="776.77" cy="1862.34" r="10.2"/><circle cx="869.31" cy="1865.26" r="10.2"/><circle cx="969.3" cy="1867.79" r="10.2"/><circle cx="1076.74" cy="1870.38" r="10.2"/><circle cx="1191.64" cy="1873.76" r="10.2"/></g>
<line x1="247.6" y1="1846.24" x2="1282.7" y2="1876.64" stroke="#355f8d" stroke-width="4.2" stroke-dasharray="15.48 6.7"/>
<g fill="none" stroke="#2f6c8e" stroke-width="3.8"><circle cx="250.73" cy="1825.96" r="10.2"/><circle cx="261.29" cy="1826.51" r="10.2"/><circle cx="279.3" cy="1826.55" r="10.2"/><circle cx="304.76" cy="1827.97" r="10.2"/><circle cx="337.68" cy="1831.16" r="10.2"/><circle cx="378.05" cy="1833.55" r="10.2"/><circle cx="425.87" cy="1835.33" r="10.2"/><circle cx="481.14" cy="1836.58" r="10.2"/><circle cx="543.87" cy="1840.06" r="10.2"/><circle cx="614.05" cy="1844.28" r="10.2"/><circle cx="691.68" cy="1847.9" r="10.2"/><circle cx="776.77" cy="1853.82" r="10.2"/><circle cx="869.31" cy="1860.67" r="10.2"/><circle cx="969.3" cy="1866" r="10.2"/><circle cx="1076.74" cy="1870.9" r="10.2"/><circle cx="1191.64" cy="1876.38" r="10.2"/></g>
<line x1="247.6" y1="1825.07" x2="1282.7" y2="1879.35" stroke="#2f6c8e" stroke-width="4.2" stroke-dasharray="15.48 6.7"/>
<g fill="none" stroke="#2a788e" stroke-width="3.8"><circle cx="250.73" cy="1795.48" r="10.2"/><circle cx="261.29" cy="1796.15" r="10.2"/><circle cx="279.3" cy="1796.19" r="10.2"/><circle cx="304.76" cy="1797.93" r="10.2"/><circle cx="337.68" cy="1801.8" r="10.2"/><circle cx="378.05" cy="1804.7" r="10.2"/><circle cx="425.87" cy="1806.86" r="10.2"/><circle cx="481.14" cy="1808.39" r="10.2"/><circle cx="543.87" cy="1812.61" r="10.2"/><circle cx="614.05" cy="1817.74" r="10.2"/><circle cx="691.68" cy="1822.14" r="10.2"/><circle cx="776.77" cy="1829.33" r="10.2"/><circle cx="869.31" cy="1837.3" r="10.2"/><circle cx="969.3" cy="1843.6" r="10.2"/><circle cx="1076.74" cy="1849.5" r="10.2"/><circle cx="1191.64" cy="1856.28" r="10.2"/></g>
<line x1="247.6" y1="1794.39" x2="1282.7" y2="1860.35" stroke="#2a788e" stroke-width="4.2" stroke-dasharray="15.48 6.7"/>
<g fill="none" stroke="#25848e" stroke-width="3.8"><circle cx="250.73" cy="1748.45" r="10.2"/><circle cx="261.29" cy="1749.25" r="10.2"/><circle cx="279.3" cy="1749.3" r="10.2"/><circle cx="304.76" cy="1751.35" r="10.2"/><circle cx="337.68" cy="1755.94" r="10.2"/><circle cx="378.05" cy="1759.38" r="10.2"/><circle cx="425.87" cy="1761.94" r="10.2"/><circle cx="481.14" cy="1763.75" r="10.2"/><circle cx="543.87" cy="1768.75" r="10.2"/><circle cx="614.05" cy="1774.84" r="10.2"/><circle cx="691.68" cy="1780.05" r="10.2"/><circle cx="776.77" cy="1788.57" r="10.2"/><circle cx="869.31" cy="1797.72" r="10.2"/><circle cx="969.3" cy="1805.03" r="10.2"/><circle cx="1076.74" cy="1811.97" r="10.2"/><circle cx="1191.64" cy="1820.11" r="10.2"/></g>
<line x1="247.6" y1="1747.17" x2="1282.7" y2="1825.34" stroke="#25848e" stroke-width="4.2" stroke-dasharray="15.48 6.7"/>
<g fill="none" stroke="#21918c" stroke-width="3.8"><circle cx="250.73" cy="1694.86" r="10.2"/><circle cx="261.29" cy="1695.74" r="10.2"/><circle cx="279.3" cy="1695.79" r="10.2"/><circle cx="304.76" cy="1698.08" r="10.2"/><circle cx="337.68" cy="1703.17" r="10.2"/><circle cx="378.05" cy="1707" r="10.2"/><circle cx="425.87" cy="1709.84" r="10.2"/><circle cx="481.14" cy="1711.85" r="10.2"/><circle cx="543.87" cy="1717.41" r="10.2"/><circle cx="614.05" cy="1724.17" r="10.2"/><circle cx="691.68" cy="1729.96" r="10.2"/><circle cx="776.77" cy="1739.43" r="10.2"/><circle cx="869.31" cy="1749.41" r="10.2"/><circle cx="969.3" cy="1757.45" r="10.2"/><circle cx="1076.74" cy="1765.13" r="10.2"/><circle cx="1191.64" cy="1774.23" r="10.2"/></g>
<line x1="247.6" y1="1693.43" x2="1282.7" y2="1780.28" stroke="#21918c" stroke-width="4.2" stroke-dasharray="15.48 6.7"/>
<g fill="none" stroke="#1e9c89" stroke-width="3.8"><circle cx="250.73" cy="1636.38" r="10.2"/><circle cx="261.29" cy="1637.37" r="10.2"/><circle cx="279.3" cy="1637.42" r="10.2"/><circle cx="304.76" cy="1639.96" r="10.2"/><circle cx="337.68" cy="1645.61" r="10.2"/><circle cx="378.05" cy="1649.86" r="10.2"/><circle cx="425.87" cy="1653.01" r="10.2"/><circle cx="481.14" cy="1655.24" r="10.2"/><circle cx="543.87" cy="1661.41" r="10.2"/><circle cx="614.05" cy="1668.91" r="10.2"/><circle cx="691.68" cy="1675.33" r="10.2"/><circle cx="776.77" cy="1685.84" r="10.2"/><circle cx="869.31" cy="1696.73" r="10.2"/><circle cx="969.3" cy="1705.56" r="10.2"/><circle cx="1076.74" cy="1714.05" r="10.2"/><circle cx="1191.64" cy="1724.2" r="10.2"/></g>
<line x1="247.6" y1="1634.8" x2="1282.7" y2="1731.15" stroke="#1e9c89" stroke-width="4.2" stroke-dasharray="15.48 6.7"/>
<g fill="none" stroke="#22a884" stroke-width="3.8"><circle cx="250.73" cy="1576.01" r="10.2"/><circle cx="261.29" cy="1577.09" r="10.2"/><circle cx="279.3" cy="1577.15" r="10.2"/><circle cx="304.76" cy="1579.92" r="10.2"/><circle cx="337.68" cy="1586.12" r="10.2"/><circle cx="378.05" cy="1590.77" r="10.2"/><circle cx="425.87" cy="1594.23" r="10.2"/><circle cx="481.14" cy="1596.67" r="10.2"/><circle cx="543.87" cy="1603.43" r="10.2"/><circle cx="614.05" cy="1611.65" r="10.2"/><circle cx="691.68" cy="1618.68" r="10.2"/><circle cx="776.77" cy="1630.2" r="10.2"/><circle cx="869.31" cy="1641.98" r="10.2"/><circle cx="969.3" cy="1651.57" r="10.2"/><circle cx="1076.74" cy="1660.85" r="10.2"/><circle cx="1191.64" cy="1672.03" r="10.2"/></g>
<line x1="247.6" y1="1574.27" x2="1282.7" y2="1679.85" stroke="#22a884" stroke-width="4.2" stroke-dasharray="15.48 6.7"/>
<g fill="none" stroke="#2fb47c" stroke-width="3.8"><circle cx="250.73" cy="1516.45" r="10.2"/><circle cx="261.29" cy="1517.62" r="10.2"/><circle cx="279.3" cy="1517.69" r="10.2"/><circle cx="304.76" cy="1520.7" r="10.2"/><circle cx="337.68" cy="1527.44" r="10.2"/><circle cx="378.05" cy="1532.5" r="10.2"/><circle cx="425.87" cy="1536.26" r="10.2"/><circle cx="481.14" cy="1538.92" r="10.2"/><circle cx="543.87" cy="1546.26" r="10.2"/><circle cx="614.05" cy="1555.2" r="10.2"/><circle cx="691.68" cy="1562.85" r="10.2"/><circle cx="776.77" cy="1575.37" r="10.2"/><circle cx="869.31" cy="1588.04" r="10.2"/><circle cx="969.3" cy="1598.4" r="10.2"/><circle cx="1076.74" cy="1608.47" r="10.2"/><circle cx="1191.64" cy="1620.67" r="10.2"/></g>
<line x1="247.6" y1="1514.56" x2="1282.7" y2="1629.37" stroke="#2fb47c" stroke-width="4.2" stroke-dasharray="15.48 6.7"/>
<g fill="none" stroke="#44bf70" stroke-width="3.8"><circle cx="250.73" cy="1460.91" r="10.2"/><circle cx="261.29" cy="1462.15" r="10.2"/><circle cx="279.3" cy="1462.22" r="10.2"/><circle cx="304.76" cy="1465.41" r="10.2"/><circle cx="337.68" cy="1472.53" r="10.2"/><circle cx="378.05" cy="1477.88" r="10.2"/><circle cx="425.87" cy="1481.85" r="10.2"/><circle cx="481.14" cy="1484.66" r="10.2"/><circle cx="543.87" cy="1492.42" r="10.2"/><circle cx="614.05" cy="1501.87" r="10.2"/><circle cx="691.68" cy="1509.95" r="10.2"/><circle cx="776.77" cy="1523.18" r="10.2"/><circle cx="869.31" cy="1536.47" r="10.2"/><circle cx="969.3" cy="1547.38" r="10.2"/><circle cx="1076.74" cy="1558" r="10.2"/><circle cx="1191.64" cy="1570.92" r="10.2"/></g>
<line x1="247.6" y1="1458.92" x2="1282.7" y2="1580.24" stroke="#44bf70" stroke-width="4.2" stroke-dasharray="15.48 6.7"/>
<g fill="none" stroke="#5ec962" stroke-width="3.8"><circle cx="250.73" cy="1408.9" r="10.2"/><circle cx="261.29" cy="1410.2" r="10.2"/><circle cx="279.3" cy="1410.27" r="10.2"/><circle cx="304.76" cy="1413.62" r="10.2"/><circle cx="337.68" cy="1421.09" r="10.2"/><circle cx="378.05" cy="1426.7" r="10.2"/><circle cx="425.87" cy="1430.87" r="10.2"/><circle cx="481.14" cy="1433.81" r="10.2"/><circle cx="543.87" cy="1441.95" r="10.2"/><circle cx="614.05" cy="1451.87" r="10.2"/><circle cx="691.68" cy="1460.35" r="10.2"/><circle cx="776.77" cy="1474.23" r="10.2"/><circle cx="869.31" cy="1488.1" r="10.2"/><circle cx="969.3" cy="1499.5" r="10.2"/><circle cx="1076.74" cy="1510.63" r="10.2"/><circle cx="1191.64" cy="1524.22" r="10.2"/></g>
<line x1="247.6" y1="1406.8" x2="1282.7" y2="1534.1" stroke="#5ec962" stroke-width="4.2" stroke-dasharray="15.48 6.7"/>
<g fill="none" stroke="#7ad151" stroke-width="3.8"><circle cx="250.73" cy="1360.42" r="10.2"/><circle cx="261.29" cy="1361.79" r="10.2"/><circle cx="279.3" cy="1361.87" r="10.2"/><circle cx="304.76" cy="1365.38" r="10.2"/><circle cx="337.68" cy="1373.24" r="10.2"/><circle cx="378.05" cy="1379.13" r="10.2"/><circle cx="425.87" cy="1383.51" r="10.2"/><circle cx="481.14" cy="1386.61" r="10.2"/><circle cx="543.87" cy="1395.17" r="10.2"/><circle cx="614.05" cy="1405.59" r="10.2"/><circle cx="691.68" cy="1414.5" r="10.2"/><circle cx="776.77" cy="1429.1" r="10.2"/><circle cx="869.31" cy="1443.59" r="10.2"/><circle cx="969.3" cy="1455.53" r="10.2"/><circle cx="1076.74" cy="1467.22" r="10.2"/><circle cx="1191.64" cy="1481.53" r="10.2"/></g>
<line x1="247.6" y1="1358.22" x2="1282.7" y2="1492.03" stroke="#7ad151" stroke-width="4.2" stroke-dasharray="15.48 6.7"/>
<g fill="none" stroke="#9bd93c" stroke-width="3.8"><circle cx="250.73" cy="1315.76" r="10.2"/><circle cx="261.29" cy="1317.2" r="10.2"/><circle cx="279.3" cy="1317.29" r="10.2"/><circle cx="304.76" cy="1321" r="10.2"/><circle cx="337.68" cy="1329.3" r="10.2"/><circle cx="378.05" cy="1335.53" r="10.2"/><circle cx="425.87" cy="1340.16" r="10.2"/><circle cx="481.14" cy="1343.44" r="10.2"/><circle cx="543.87" cy="1352.48" r="10.2"/><circle cx="614.05" cy="1363.5" r="10.2"/><circle cx="691.68" cy="1372.91" r="10.2"/><circle cx="776.77" cy="1388.34" r="10.2"/><circle cx="869.31" cy="1401.93" r="10.2"/><circle cx="969.3" cy="1413.69" r="10.2"/><circle cx="1076.74" cy="1425.76" r="10.2"/><circle cx="1191.64" cy="1441.45" r="10.2"/></g>
<line x1="247.6" y1="1313.43" x2="1282.7" y2="1454.84" stroke="#9bd93c" stroke-width="4.2" stroke-dasharray="15.48 6.7"/>
<g fill="none" stroke="#bddf26" stroke-width="3.8"><circle cx="250.73" cy="1276.24" r="10.2"/><circle cx="261.29" cy="1277.75" r="10.2"/><circle cx="279.3" cy="1277.84" r="10.2"/><circle cx="304.76" cy="1281.73" r="10.2"/><circle cx="337.68" cy="1290.41" r="10.2"/><circle cx="378.05" cy="1296.92" r="10.2"/><circle cx="425.87" cy="1301.77" r="10.2"/><circle cx="481.14" cy="1305.19" r="10.2"/><circle cx="543.87" cy="1314.65" r="10.2"/><circle cx="614.05" cy="1326.17" r="10.2"/><circle cx="691.68" cy="1336.03" r="10.2"/><circle cx="776.77" cy="1352.16" r="10.2"/><circle cx="869.31" cy="1366.38" r="10.2"/><circle cx="969.3" cy="1378.68" r="10.2"/><circle cx="1076.74" cy="1391.3" r="10.2"/><circle cx="1191.64" cy="1407.72" r="10.2"/></g>
<line x1="247.6" y1="1273.81" x2="1282.7" y2="1421.73" stroke="#bddf26" stroke-width="4.2" stroke-dasharray="15.48 6.7"/>
<g fill="none" stroke="#dfe318" stroke-width="3.8"><circle cx="250.73" cy="1244.62" r="10.2"/><circle cx="261.29" cy="1246.22" r="10.2"/><circle cx="279.3" cy="1241.43" r="10.2"/><circle cx="304.76" cy="1245.53" r="10.2"/><circle cx="337.68" cy="1254.71" r="10.2"/><circle cx="378.05" cy="1261.6" r="10.2"/><circle cx="425.87" cy="1266.72" r="10.2"/><circle cx="481.14" cy="1270.34" r="10.2"/><circle cx="543.87" cy="1280.33" r="10.2"/><circle cx="614.05" cy="1292.51" r="10.2"/><circle cx="691.68" cy="1302.92" r="10.2"/><circle cx="776.77" cy="1319.98" r="10.2"/><circle cx="869.31" cy="1335.01" r="10.2"/><circle cx="969.3" cy="1348.01" r="10.2"/><circle cx="1076.74" cy="1361.34" r="10.2"/><circle cx="1191.64" cy="1378.7" r="10.2"/></g>
<line x1="247.6" y1="1237.16" x2="1282.7" y2="1393.5" stroke="#dfe318" stroke-width="4.2" stroke-dasharray="15.48 6.7"/>
<g fill="none" stroke="#fde725" stroke-width="3.8"><circle cx="250.73" cy="1214.31" r="10.2"/><circle cx="261.29" cy="1215.96" r="10.2"/><circle cx="279.3" cy="1216.05" r="10.2"/><circle cx="304.76" cy="1220.3" r="10.2"/><circle cx="337.68" cy="1229.77" r="10.2"/><circle cx="378.05" cy="1236.89" r="10.2"/><circle cx="425.87" cy="1242.18" r="10.2"/><circle cx="481.14" cy="1245.92" r="10.2"/><circle cx="543.87" cy="1256.25" r="10.2"/><circle cx="614.05" cy="1268.82" r="10.2"/><circle cx="691.68" cy="1279.58" r="10.2"/><circle cx="776.77" cy="1297.2" r="10.2"/><circle cx="869.31" cy="1312.72" r="10.2"/><circle cx="969.3" cy="1326.15" r="10.2"/><circle cx="1076.74" cy="1339.93" r="10.2"/><circle cx="1191.64" cy="1357.85" r="10.2"/></g>
<line x1="247.6" y1="1211.65" x2="1282.7" y2="1373.15" stroke="#fde725" stroke-width="4.2" stroke-dasharray="15.48 6.7"/>
</g>
<line x1="240.1" y1="1878.4" x2="247.6" y2="1878.4" stroke="#000" stroke-width="2.5" />
<line x1="1282.7" y1="1878.4" x2="1290.2" y2="1878.4" stroke="#000" stroke-width="2.5" />
<line x1="240.1" y1="1824.12" x2="247.6" y2="1824.12" stroke="#000" stroke-width="2.5" />
<line x1="1282.7" y1="1824.12" x2="1290.2" y2="1824.12" stroke="#000" stroke-width="2.5" />
<line x1="240.1" y1="1796.97" x2="247.6" y2="1796.97" stroke="#000" stroke-width="2.5" />
<line x1="1282.7" y1="1796.97" x2="1290.2" y2="1796.97" stroke="#000" stroke-width="2.5" />
<line x1="240.1" y1="1769.83" x2="247.6" y2="1769.83" stroke="#000" stroke-width="2.5" />
<line x1="1282.7" y1="1769.83" x2="1290.2" y2="1769.83" stroke="#000" stroke-width="2.5" />
<line x1="240.1" y1="1742.69" x2="247.6" y2="1742.69" stroke="#000" stroke-width="2.5" />
<line x1="1282.7" y1="1742.69" x2="1290.2" y2="1742.69" stroke="#000" stroke-width="2.5" />
<line x1="240.1" y1="1688.4" x2="247.6" y2="1688.4" stroke="#000" stroke-width="2.5" />
<line x1="1282.7" y1="1688.4" x2="1290.2" y2="1688.4" stroke="#000" stroke-width="2.5" />
<line x1="240.1" y1="1661.26" x2="247.6" y2="1661.26" stroke="#000" stroke-width="2.5" />
<line x1="1282.7" y1="1661.26" x2="1290.2" y2="1661.26" stroke="#000" stroke-width="2.5" />
<line x1="240.1" y1="1634.12" x2="247.6" y2="1634.12" stroke="#000" stroke-width="2.5" />
<line x1="1282.7" y1="1634.12" x2="1290.2" y2="1634.12" stroke="#000" stroke-width="2.5" />
<line x1="240.1" y1="1606.98" x2="247.6" y2="1606.98" stroke="#000" stroke-width="2.5" />
<line x1="1282.7" y1="1606.98" x2="1290.2" y2="1606.98" stroke="#000" stroke-width="2.5" />
<line x1="240.1" y1="1552.69" x2="247.6" y2="1552.69" stroke="#000" stroke-width="2.5" />
<line x1="1282.7" y1="1552.69" x2="1290.2" y2="1552.69" stroke="#000" stroke-width="2.5" />
<line x1="240.1" y1="1525.55" x2="247.6" y2="1525.55" stroke="#000" stroke-width="2.5" />
<line x1="1282.7" y1="1525.55" x2="1290.2" y2="1525.55" stroke="#000" stroke-width="2.5" />
<line x1="240.1" y1="1498.41" x2="247.6" y2="1498.41" stroke="#000" stroke-width="2.5" />
<line x1="1282.7" y1="1498.41" x2="1290.2" y2="1498.41" stroke="#000" stroke-width="2.5" />
<line x1="240.1" y1="1471.27" x2="247.6" y2="1471.27" stroke="#000" stroke-width="2.5" />
<line x1="1282.7" y1="1471.27" x2="1290.2" y2="1471.27" stroke="#000" stroke-width="2.5" />
<line x1="240.1" y1="1416.98" x2="247.6" y2="1416.98" stroke="#000" stroke-width="2.5" />
<line x1="1282.7" y1="1416.98" x2="1290.2" y2="1416.98" stroke="#000" stroke-width="2.5" />
<line x1="240.1" y1="1389.84" x2="247.6" y2="1389.84" stroke="#000" stroke-width="2.5" />
<line x1="1282.7" y1="1389.84" x2="1290.2" y2="1389.84" stroke="#000" stroke-width="2.5" />
<line x1="240.1" y1="1362.7" x2="247.6" y2="1362.7" stroke="#000" stroke-width="2.5" />
<line x1="1282.7" y1="1362.7" x2="1290.2" y2="1362.7" stroke="#000" stroke-width="2.5" />
<line x1="240.1" y1="1335.55" x2="247.6" y2="1335.55" stroke="#000" stroke-width="2.5" />
<line x1="1282.7" y1="1335.55" x2="1290.2" y2="1335.55" stroke="#000" stroke-width="2.5" />
<line x1="240.1" y1="1281.27" x2="247.6" y2="1281.27" stroke="#000" stroke-width="2.5" />
<line x1="1282.7" y1="1281.27" x2="1290.2" y2="1281.27" stroke="#000" stroke-width="2.5" />
<line x1="240.1" y1="1254.13" x2="247.6" y2="1254.13" stroke="#000" stroke-width="2.5" />
<line x1="1282.7" y1="1254.13" x2="1290.2" y2="1254.13" stroke="#000" stroke-width="2.5" />
<line x1="240.1" y1="1226.98" x2="247.6" y2="1226.98" stroke="#000" stroke-width="2.5" />
<line x1="1282.7" y1="1226.98" x2="1290.2" y2="1226.98" stroke="#000" stroke-width="2.5" />
<line x1="240.1" y1="1199.84" x2="247.6" y2="1199.84" stroke="#000" stroke-width="2.5" />
<line x1="1282.7" y1="1199.84" x2="1290.2" y2="1199.84" stroke="#000" stroke-width="2.5" />
<line x1="351.11" y1="1165.2" x2="351.11" y2="1172.7" stroke="#000" stroke-width="2.5" />
<line x1="351.11" y1="1878.4" x2="351.11" y2="1885.9" stroke="#000" stroke-width="2.5" />
<line x1="558.13" y1="1165.2" x2="558.13" y2="1172.7" stroke="#000" stroke-width="2.5" />
<line x1="558.13" y1="1878.4" x2="558.13" y2="1885.9" stroke="#000" stroke-width="2.5" />
<line x1="765.15" y1="1165.2" x2="765.15" y2="1172.7" stroke="#000" stroke-width="2.5" />
<line x1="765.15" y1="1878.4" x2="765.15" y2="1885.9" stroke="#000" stroke-width="2.5" />
<line x1="972.17" y1="1165.2" x2="972.17" y2="1172.7" stroke="#000" stroke-width="2.5" />
<line x1="972.17" y1="1878.4" x2="972.17" y2="1885.9" stroke="#000" stroke-width="2.5" />
<line x1="1179.19" y1="1165.2" x2="1179.19" y2="1172.7" stroke="#000" stroke-width="2.5" />
<line x1="1179.19" y1="1878.4" x2="1179.19" y2="1885.9" stroke="#000" stroke-width="2.5" />
<rect x="247.6" y="1172.7" width="1035.1" height="705.7" fill="none" stroke="#000" stroke-width="2.8"/>
<text x="184.31" y="1184.3" font-size="20.3" font-weight="bold" textLength="16.52" lengthAdjust="spacingAndGlyphs" >2</text>
<text x="200.41" y="1188" font-size="26.79" font-weight="bold" textLength="15.15" lengthAdjust="spacingAndGlyphs" >5</text>
<text x="215.33" y="1184.3" font-size="20.3" font-weight="bold" textLength="17.39" lengthAdjust="spacingAndGlyphs" >0</text>
<text x="181.28" y="1318.7" font-size="19.56" font-weight="bold" textLength="16.89" lengthAdjust="spacingAndGlyphs" >2</text>
<text x="197.63" y="1318.7" font-size="19.56" font-weight="bold" textLength="17.79" lengthAdjust="spacingAndGlyphs" >0</text>
<text x="214.97" y="1318.7" font-size="19.56" font-weight="bold" textLength="17.79" lengthAdjust="spacingAndGlyphs" >0</text>
<text x="188.24" y="1455.4" font-size="19.56" font-weight="bold" textLength="12.87" lengthAdjust="spacingAndGlyphs" >1</text>
<text x="200.76" y="1458.96" font-size="25.81" font-weight="bold" textLength="14.98" lengthAdjust="spacingAndGlyphs" >5</text>
<text x="215.52" y="1455.4" font-size="19.56" font-weight="bold" textLength="17.19" lengthAdjust="spacingAndGlyphs" >0</text>
<text x="185.08" y="1589.7" font-size="20" font-weight="bold" textLength="13.23" lengthAdjust="spacingAndGlyphs" >1</text>
<text x="197.84" y="1589.7" font-size="20" font-weight="bold" textLength="17.68" lengthAdjust="spacingAndGlyphs" >0</text>
<text x="215.07" y="1589.7" font-size="20" font-weight="bold" textLength="17.68" lengthAdjust="spacingAndGlyphs" >0</text>
<text x="200.8" y="1731.2" font-size="26.79" font-weight="bold" textLength="14.96" lengthAdjust="spacingAndGlyphs" >5</text>
<text x="215.54" y="1727.5" font-size="20.3" font-weight="bold" textLength="17.17" lengthAdjust="spacingAndGlyphs" >0</text>
<text x="216.83" y="1864" font-size="18.81" font-weight="bold" textLength="17.93" lengthAdjust="spacingAndGlyphs" >0</text>
<text x="240.45" y="1913.3" font-size="19.26" font-weight="bold" textLength="17.7" lengthAdjust="spacingAndGlyphs" >0</text>
<text x="437.96" y="1913.3" font-size="19.26" font-weight="bold" textLength="16" lengthAdjust="spacingAndGlyphs" >2</text>
<text x="453.44" y="1913.3" font-size="19.26" font-weight="bold" textLength="16.85" lengthAdjust="spacingAndGlyphs" >0</text>
<text x="645.32" y="1916.81" font-size="25.42" font-weight="bold" textLength="13.93" lengthAdjust="spacingAndGlyphs" >4</text>
<text x="659.55" y="1913.3" font-size="19.26" font-weight="bold" textLength="16.18" lengthAdjust="spacingAndGlyphs" >0</text>
<text x="853.33" y="1913.3" font-size="26.19" font-weight="bold" textLength="15.6" lengthAdjust="spacingAndGlyphs" >6</text>
<text x="868.88" y="1913.3" font-size="19.26" font-weight="bold" textLength="16.91" lengthAdjust="spacingAndGlyphs" >0</text>
<text x="1058.64" y="1913.3" font-size="26.19" font-weight="bold" textLength="16.02" lengthAdjust="spacingAndGlyphs" >8</text>
<text x="1074.47" y="1913.3" font-size="19.26" font-weight="bold" textLength="17.25" lengthAdjust="spacingAndGlyphs" >0</text>
<text x="1257.71" y="1913.3" font-size="19.26" font-weight="bold" textLength="13.05" lengthAdjust="spacingAndGlyphs" >1</text>
<text x="1270.3" y="1913.3" font-size="19.26" font-weight="bold" textLength="17.44" lengthAdjust="spacingAndGlyphs" >0</text>
<text x="1287.29" y="1913.3" font-size="19.26" font-weight="bold" textLength="17.44" lengthAdjust="spacingAndGlyphs" >0</text>
<text x="590.1" y="1963.2" font-size="31" font-weight="bold" textLength="170.42" lengthAdjust="spacingAndGlyphs" >Frequency²</text>
<text x="768.13" y="1963.2" font-size="31" font-weight="bold" textLength="69.14" lengthAdjust="spacingAndGlyphs" >[Hz²</text>
<text x="844.22" y="1960.7" font-size="28" font-weight="bold" textLength="19.02" lengthAdjust="spacingAndGlyphs" >×</text>
<text x="868.09" y="1963.2" font-size="25.2" font-weight="bold" textLength="19.42" lengthAdjust="spacingAndGlyphs" >1</text>
<text x="886.14" y="1963.2" font-size="25.2" font-weight="bold" textLength="17.81" lengthAdjust="spacingAndGlyphs" >0</text>
<text x="904.04" y="1963.2" font-size="31" font-weight="bold" textLength="23.59" lengthAdjust="spacingAndGlyphs" >¹⁶</text>
<text x="927.13" y="1961.4" font-size="31" font-weight="bold" textLength="15.4" lengthAdjust="spacingAndGlyphs" >]</text>
<g transform="translate(154.5,1680) rotate(-90)">
<text x="-0.27" y="0" font-size="31" font-weight="bold" textLength="73.9" lengthAdjust="spacingAndGlyphs" >Re[Y</text>
<text x="72.36" y="0" font-size="31" font-weight="bold" textLength="22.3" lengthAdjust="spacingAndGlyphs" >₂₁</text>
<text x="94.92" y="0" font-size="31" font-weight="bold" textLength="26.63" lengthAdjust="spacingAndGlyphs" >]/</text>
<text x="121.84" y="0" font-size="24.4" font-weight="bold" textLength="18.55" lengthAdjust="spacingAndGlyphs" >2</text>
<text x="141.33" y="0" font-size="31" font-weight="bold" textLength="32.41" lengthAdjust="spacingAndGlyphs" >πf</text>
<text x="179.48" y="0" font-size="31" font-weight="bold" textLength="126.83" lengthAdjust="spacingAndGlyphs" >[μS/μm]</text>
</g>
<rect x="1346.2" y="1172.5" width="34.6" height="705.4" fill="url(#vir)" stroke="#000" stroke-width="3"/>
<line x1="1380.8" y1="1172.5" x2="1395.8" y2="1172.5" stroke="#000" stroke-width="2.6" />
<text x="1410.51" y="1181.2" font-size="15.41" font-weight="bold" textLength="13.03" lengthAdjust="spacingAndGlyphs" >1</text>
<text x="1422.09" y="1181.5" font-size="16.95" font-weight="bold" textLength="7.28" lengthAdjust="spacingAndGlyphs" >.</text>
<text x="1427.89" y="1181.2" font-size="15.41" font-weight="bold" textLength="16.53" lengthAdjust="spacingAndGlyphs" >2</text>
<line x1="1380.8" y1="1314.3" x2="1395.8" y2="1314.3" stroke="#000" stroke-width="2.6" />
<text x="1410.58" y="1322.8" font-size="15.41" font-weight="bold" textLength="12.6" lengthAdjust="spacingAndGlyphs" >1</text>
<text x="1421.78" y="1323.1" font-size="16.95" font-weight="bold" textLength="7.04" lengthAdjust="spacingAndGlyphs" >.</text>
<text x="1427.45" y="1322.8" font-size="15.41" font-weight="bold" textLength="16.84" lengthAdjust="spacingAndGlyphs" >0</text>
<line x1="1380.8" y1="1456.1" x2="1395.8" y2="1456.1" stroke="#000" stroke-width="2.6" />
<text x="1411.48" y="1464.3" font-size="15.41" font-weight="bold" textLength="14.76" lengthAdjust="spacingAndGlyphs" >0</text>
<text x="1425.03" y="1464.6" font-size="16.95" font-weight="bold" textLength="6.17" lengthAdjust="spacingAndGlyphs" >.</text>
<text x="1430.21" y="1464.3" font-size="20.95" font-weight="bold" textLength="13.7" lengthAdjust="spacingAndGlyphs" >8</text>
<line x1="1380.8" y1="1596.1" x2="1395.8" y2="1596.1" stroke="#000" stroke-width="2.6" />
<text x="1411.48" y="1604.6" font-size="15.41" font-weight="bold" textLength="14.76" lengthAdjust="spacingAndGlyphs" >0</text>
<text x="1425.03" y="1604.9" font-size="16.95" font-weight="bold" textLength="6.17" lengthAdjust="spacingAndGlyphs" >.</text>
<text x="1430.18" y="1604.6" font-size="20.95" font-weight="bold" textLength="13.61" lengthAdjust="spacingAndGlyphs" >6</text>
<line x1="1380.8" y1="1738.1" x2="1395.8" y2="1738.1" stroke="#000" stroke-width="2.6" />
<text x="1411.48" y="1746.7" font-size="15.41" font-weight="bold" textLength="14.76" lengthAdjust="spacingAndGlyphs" >0</text>
<text x="1425.03" y="1747" font-size="16.95" font-weight="bold" textLength="6.17" lengthAdjust="spacingAndGlyphs" >.</text>
<text x="1430.77" y="1749.51" font-size="20.34" font-weight="bold" textLength="12.7" lengthAdjust="spacingAndGlyphs" >4</text>
<line x1="1380.8" y1="1877.9" x2="1395.8" y2="1877.9" stroke="#000" stroke-width="2.6" />
<text x="1411.47" y="1886.6" font-size="15.41" font-weight="bold" textLength="14.88" lengthAdjust="spacingAndGlyphs" >0</text>
<text x="1425.13" y="1886.9" font-size="16.95" font-weight="bold" textLength="6.22" lengthAdjust="spacingAndGlyphs" >.</text>
<text x="1430.08" y="1886.6" font-size="15.41" font-weight="bold" textLength="14.13" lengthAdjust="spacingAndGlyphs" >2</text>
<g transform="translate(1485.5,1645.6) rotate(-90)">
<text x="-1.68" y="0" font-size="32" font-weight="bold" textLength="239.33" lengthAdjust="spacingAndGlyphs" >Gate Voltage[V]</text>
</g>
</svg></body></html>
